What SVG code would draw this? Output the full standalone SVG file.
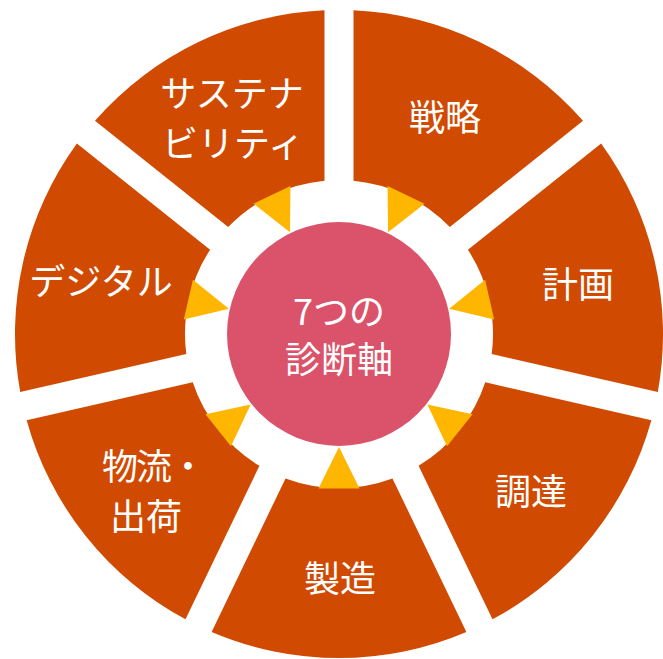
<svg xmlns="http://www.w3.org/2000/svg" xmlns:xlink="http://www.w3.org/1999/xlink" width="663" height="659" viewBox="0 0 663 659">
<defs>
<style>
.seg{fill:#D04A02;}
.tri{fill:#FFB600;}
.lbl{fill:#FFFFFF;font-family:"Noto Sans CJK JP","Noto Sans",sans-serif;font-size:36px;text-anchor:middle;}
</style>
<path id="seg" d="M 353.50 10.32 A 324 324 0 0 1 583.02 120.85 L 449.83 227.07 A 154 154 0 0 0 353.50 180.68 Z"/>
<polygon id="tri" points="339,221 318.5,179.5 359.5,179.5"/>
</defs>
<rect width="663" height="659" fill="#FFFFFF"/>
<g id="node-strategy">
<use xlink:href="#seg" href="#seg" class="seg"/>
<text class="lbl" x="445" y="131">戦略</text>
</g>
<g id="node-planning">
<use xlink:href="#seg" href="#seg" class="seg" transform="rotate(51.428571 339 334)"/>
<text class="lbl" x="578" y="298">計画</text>
</g>
<g id="node-procurement">
<use xlink:href="#seg" href="#seg" class="seg" transform="rotate(102.857143 339 334)"/>
<text class="lbl" x="531" y="505">調達</text>
</g>
<g id="node-manufacturing">
<use xlink:href="#seg" href="#seg" class="seg" transform="rotate(154.285714 339 334)"/>
<text class="lbl" x="340" y="592">製造</text>
</g>
<g id="node-logistics">
<use xlink:href="#seg" href="#seg" class="seg" transform="rotate(205.714286 339 334)"/>
<text class="lbl" x="102" y="480" style="text-anchor:start;letter-spacing:-2px">物流・</text>
<text class="lbl" x="146" y="530">出荷</text>
</g>
<g id="node-digital">
<use xlink:href="#seg" href="#seg" class="seg" transform="rotate(257.142857 339 334)"/>
<text class="lbl" x="101" y="295">デジタル</text>
</g>
<g id="node-sustainability">
<use xlink:href="#seg" href="#seg" class="seg" transform="rotate(308.571429 339 334)"/>
<text class="lbl" x="232" y="107">サステナ</text>
<text class="lbl" x="233" y="157">ビリティ</text>
</g>
<g id="connectors">
<use xlink:href="#tri" href="#tri" class="tri" transform="rotate(25.714286 339 334)"/>
<use xlink:href="#tri" href="#tri" class="tri" transform="rotate(77.142857 339 334)"/>
<use xlink:href="#tri" href="#tri" class="tri" transform="rotate(128.571429 339 334)"/>
<use xlink:href="#tri" href="#tri" class="tri" transform="rotate(180 339 334)"/>
<use xlink:href="#tri" href="#tri" class="tri" transform="rotate(231.428571 339 334)"/>
<use xlink:href="#tri" href="#tri" class="tri" transform="rotate(282.857143 339 334)"/>
<use xlink:href="#tri" href="#tri" class="tri" transform="rotate(334.285714 339 334)"/>
</g>
<g id="node-center">
<circle cx="339" cy="334" r="112" fill="#DB536A"/>
<text class="lbl" x="339" y="325">7つの</text>
<text class="lbl" x="339" y="373">診断軸</text>
</g>
</svg>
